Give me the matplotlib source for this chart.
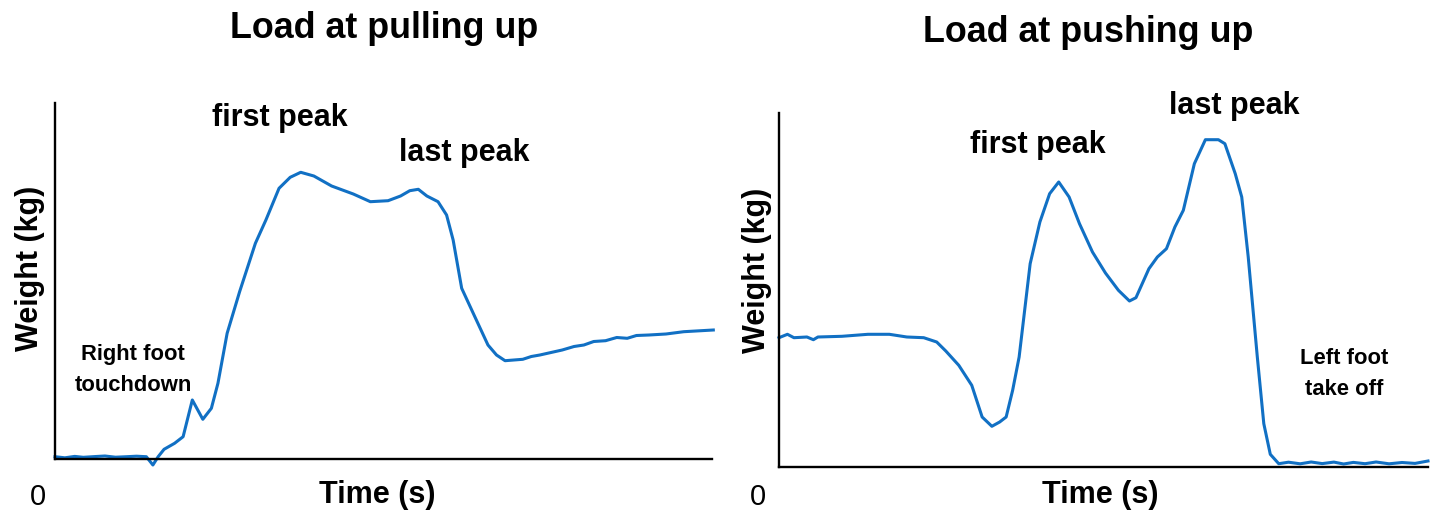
import matplotlib
matplotlib.use("Agg")
import matplotlib.pyplot as plt

plt.rcParams['font.family'] = ['Liberation Sans', 'DejaVu Sans']

W, H = 1438, 521

# load while pulling up (time in % of trace, weight in arbitrary units)
pull_time = [0, 1.5, 3, 4.3, 6, 7.6, 9.2, 10.9, 12.4, 13.9, 14.9, 15.7, 16.6,
             18.2, 19.5, 20.9, 22.5, 23.8, 24.8, 26.2, 28.1, 30.5, 32.1, 34.1,
             35.8, 37.4, 39.4, 42.1, 45.4, 48.0, 50.7, 52.6, 54.0, 55.3, 56.6,
             58.3, 59.6, 60.6, 61.9, 63.9, 65.9, 67.2, 68.5, 71.2, 72.5, 73.8,
             75.5, 77.2, 79, 80.5, 82, 83.8, 85.5, 87.1, 88.5, 90.4, 93, 95.7,
             100.2]
pull_weight = [2.3, 1.2, 2.6, 1.7, 2.4, 3, 1.8, 2.3, 2.8, 2.3, -6, 2.3, 9.7,
               15.7, 22.3, 59, 39.7, 50.7, 75.7, 125.7, 167.3, 215.7, 239,
               270.7, 281.7, 286.7, 283, 273, 265, 257.3, 258.3, 263, 268.3,
               269.7, 263, 257.3, 244, 219, 170.7, 142.3, 114, 104, 98.3, 99.7,
               102.5, 104, 106.5, 109, 112.5, 114, 117.5, 118.3, 121.5, 120.7,
               123.5, 124, 125, 127.3, 129]

# load while pushing up
push_time = [0, 1.3, 2.3, 4.3, 5.3, 6, 9.7, 13.7, 17, 19.7, 22.3, 24.3, 25.7,
             27.7, 29.7, 31.3, 32.8, 34, 35, 36, 37, 38.7, 40.2, 41.7, 43.1,
             44.7, 46.3, 48.3, 50.3, 52.3, 54, 55, 57, 58.3, 59.7, 61, 62.3,
             64, 65.7, 67.7, 68.7, 70.3, 71.3, 72.3, 73.7, 74.7, 75.7, 77,
             78.5, 80.3, 82, 83.7, 85.5, 87, 88.5, 90.3, 92, 94, 96, 98, 100]
push_weight = [129.3, 132.7, 129.3, 130, 127.3, 130, 130.7, 132.7, 132.7, 130,
               129.3, 125, 116, 101.7, 81.7, 50, 40.7, 45, 50, 76.7, 110, 203.3,
               245, 273.3, 285, 270, 243.3, 215, 194, 176.7, 166, 169.3, 198.3,
               210, 218.3, 240, 256.7, 303.3, 327.3, 327.3, 323.3, 293.3, 270,
               210, 110, 43.3, 12.7, 3.3, 4.8, 3.2, 5, 3.4, 4.9, 3, 4.6, 3.3,
               5, 3.2, 4.5, 3.6, 6]

line_color = '#1170c4'

fig = plt.figure(figsize=(W / 100, H / 100), dpi=100)


def make_axes(x0, y0, x1, y1):
    ax = fig.add_axes([x0 / W, 1 - y1 / H, (x1 - x0) / W, (y1 - y0) / H])
    for side in ('top', 'right'):
        ax.spines[side].set_visible(False)
    for side in ('left', 'bottom'):
        ax.spines[side].set_linewidth(1.7)
        ax.spines[side].set_color('black')
    ax.set_xticks([])
    ax.set_yticks([])
    ax.set_xlim(0, 100)
    return ax


ax1 = make_axes(55, 103, 712, 459)
ax1.set_ylim(0, 356)
ax1.plot(pull_time, pull_weight, color=line_color, lw=2.2, clip_on=False)

ax2 = make_axes(779, 113, 1428, 467)
ax2.set_ylim(0, 354)
ax2.plot(push_time, push_weight, color=line_color, lw=2.2, clip_on=False)


def txt(x, y, s, size, weight='bold', **kw):
    fig.text(x / W, 1 - y / H, s, fontsize=size, fontweight=weight,
             ha='center', va='center', **kw)


# titles
txt(384, 28, 'Load at pulling up', 25.8)
txt(1088, 33, 'Load at pushing up', 25.8)

# axis labels
txt(30, 268, 'Weight (kg)', 22, rotation=90)
txt(757, 270, 'Weight (kg)', 22, rotation=90)
txt(377, 495, 'Time (s)', 22)
txt(1100, 495, 'Time (s)', 22)
txt(38, 497, '0', 21, weight='normal')
txt(758, 497, '0', 21, weight='normal')

# annotations
txt(280, 118, 'first peak', 22)
txt(464, 153, 'last peak', 22)
txt(1038, 145, 'first peak', 22)
txt(1234, 106, 'last peak', 22)
txt(133, 370, 'Right foot\ntouchdown', 15.8, linespacing=1.65)
txt(1344, 374, 'Left foot\ntake off', 15.8, linespacing=1.65)

fig.savefig('out.png', dpi=100)
